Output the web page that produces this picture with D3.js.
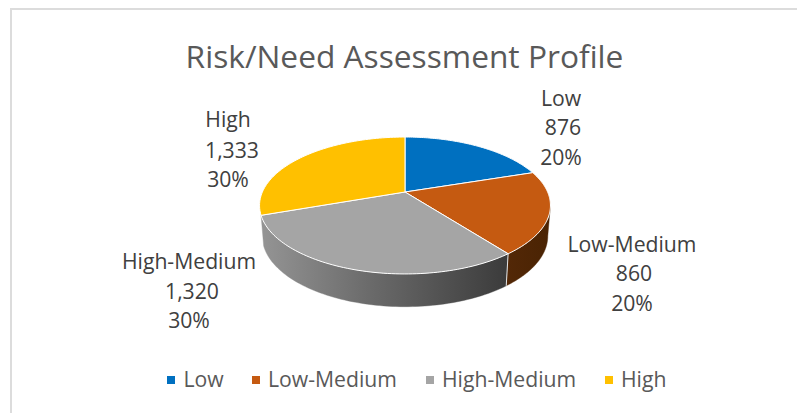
<!DOCTYPE html>
<html><head><meta charset="utf-8">
<style>html,body{margin:0;padding:0;background:#fff}svg{display:block}text{font-family:"Open Sans",sans-serif;fill:#595959}</style>
<script src="https://cdn.jsdelivr.net/npm/d3@7"></script></head>
<body><svg id="c" width="797" height="413"></svg>
<script>
const categories = ["Low","Low-Medium","High-Medium","High"];
const values = [876,860,1320,1333];
const valueLabels = ["876","860","1,320","1,333"];
const percentLabels = ["20%","20%","30%","30%"];
const topColors = ["#0070c0","#c55a11","#a5a5a5","#ffc000"];
const title = "Risk/Need Assessment Profile";

const svg = d3.select("#c");
svg.append("rect").attr("x",11).attr("y",9).attr("width",830).attr("height",460)
  .attr("fill","#fff").attr("stroke","#dcdcdc").attr("stroke-width",2);

const cx=405, P=0.197;
const topFace={y0:192,b:65.8,c:142.6}, botFace={y0:222,b:68,c:140};
const proj=(f,a)=>{const u=Math.sin(a),v=Math.cos(a),w=1+P*v;return [cx+f.c*u/w,f.y0-f.b*v/w];};
const arcs=d3.pie().sort(null)(values);
const line=d3.line();
const samples=(s,e,n=80)=>d3.range(n+1).map(i=>s+(e-s)*i/n);

const defs=svg.append("defs");
const g1=defs.append("linearGradient").attr("id","gGrey").attr("gradientUnits","userSpaceOnUse")
 .attr("x1",262).attr("x2",505).attr("y1",0).attr("y2",0);
g1.append("stop").attr("offset",0).attr("stop-color","#949494");
g1.append("stop").attr("offset",0.45).attr("stop-color","#6a6a6a");
g1.append("stop").attr("offset",1).attr("stop-color","#3c3c3c");
const g2=defs.append("linearGradient").attr("id","gOr").attr("gradientUnits","userSpaceOnUse")
 .attr("x1",505).attr("x2",550).attr("y1",0).attr("y2",0);
g2.append("stop").attr("offset",0).attr("stop-color","#532807");
g2.append("stop").attr("offset",1).attr("stop-color","#4a2303");

const wall=(s,e,fill)=>{
  const as=samples(s,e);
  const pts=as.map(a=>proj(topFace,a)).concat(as.slice().reverse().map(a=>proj(botFace,a)));
  svg.append("path").attr("d",line(pts)+"Z").attr("fill",fill).attr("stroke",fill).attr("stroke-width",.4);
};
const rightExtreme=Math.PI/2+Math.asin(P);
wall(rightExtreme,arcs[1].endAngle,"url(#gOr)");
wall(arcs[2].startAngle,arcs[2].endAngle,"url(#gGrey)");
svg.append("path").attr("d",line([proj(topFace,arcs[2].startAngle),proj(botFace,arcs[2].startAngle)]))
  .attr("stroke","#e6e6e6").attr("stroke-width",1).attr("fill","none");

svg.append("g").selectAll("path").data(arcs).join("path")
  .attr("d",d=>{
    const pts=samples(d.startAngle,d.endAngle).map(a=>proj(topFace,a));
    return line([[cx,topFace.y0],...pts])+"Z";
  })
  .attr("fill",(d,i)=>topColors[i]).attr("stroke","#fff").attr("stroke-width",1).attr("stroke-linejoin","round");

svg.append("text").attr("x",404.5).attr("y",68).attr("text-anchor","middle")
  .style("font-size","31.7px").text(title);

const nameX=[561,632,189,228], valueX=[563,634,192,232], pctX=[561,632,189,228];
const lineY=[[106,135,165],[252,281,311],[269,299,328],[127,158,187]];
categories.forEach((c,i)=>{
  const t=svg.append("text").attr("text-anchor","middle").style("font-size","21.2px").style("fill","#404040");
  [[c,nameX[i]],[valueLabels[i],valueX[i]],[percentLabels[i],pctX[i]]].forEach(([s,x],k)=>
    t.append("tspan").attr("x",x).attr("y",lineY[i][k]).text(s));
});

const legPos=[[167,183.5],[252,268],[426,442],[605,621]];
categories.forEach((c,i)=>{
  svg.append("rect").attr("x",legPos[i][0]).attr("y",376).attr("width",8).attr("height",8).attr("fill",topColors[i]);
  svg.append("text").attr("x",legPos[i][1]).attr("y",387).style("font-size","21.2px").text(c);
});
</script></body></html>
